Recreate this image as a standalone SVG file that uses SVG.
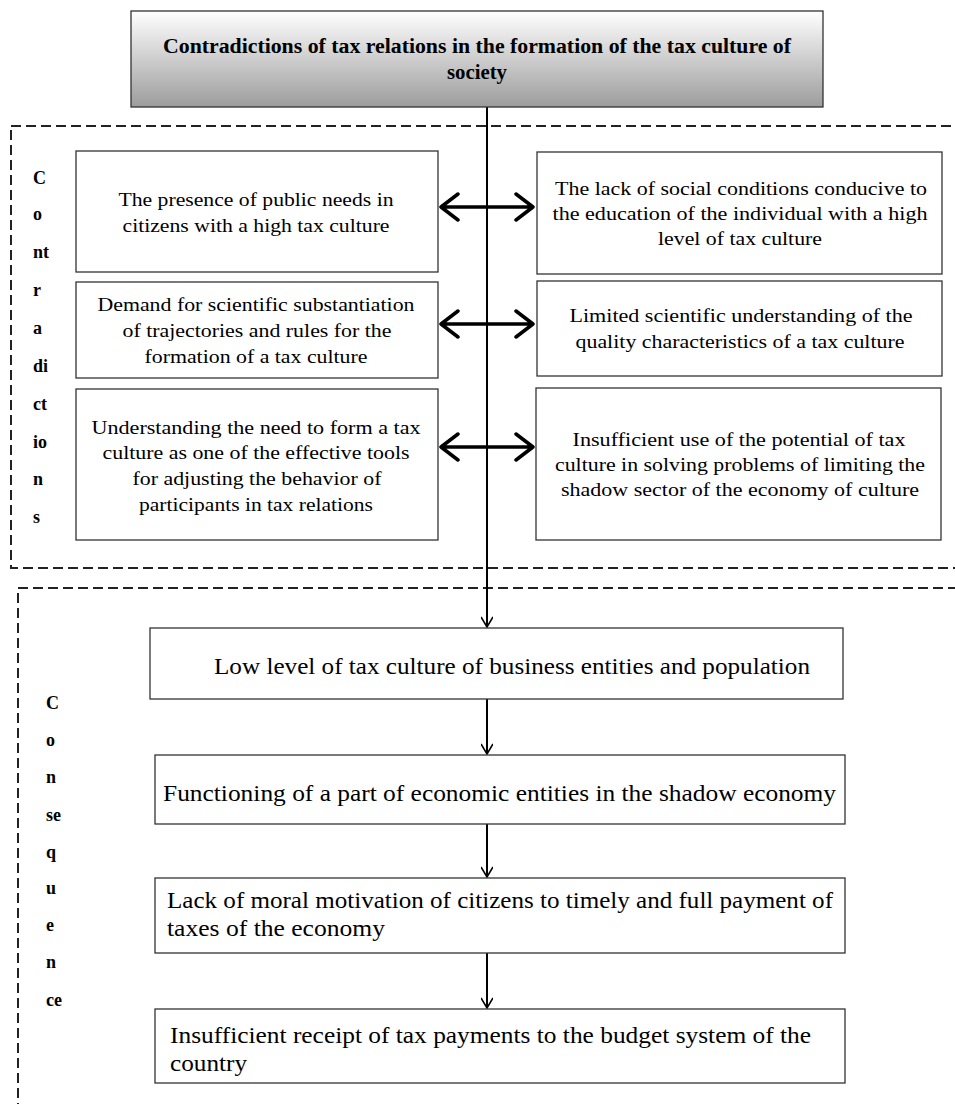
<svg xmlns="http://www.w3.org/2000/svg" width="955" height="1104" viewBox="0 0 955 1104">
<defs>
<linearGradient id="g" x1="0" y1="0" x2="0" y2="1">
<stop offset="0" stop-color="#ffffff"/>
<stop offset="1" stop-color="#9c9c9c"/>
</linearGradient>
<marker id="ah" viewBox="0 0 12 12" refX="11" refY="6" markerWidth="12" markerHeight="12" markerUnits="userSpaceOnUse" orient="auto">
<path d="M1,0 L11,6 L1,12" fill="none" stroke="#000" stroke-width="1.6"/>
</marker>
</defs>
<style>
.box{fill:#fff;stroke:#333;stroke-width:1.3}
.dash{fill:none;stroke:#222;stroke-width:2;stroke-dasharray:10,5}
.t{font-family:"Liberation Serif",serif;font-size:19.5px;fill:#000;text-anchor:middle}
.c{font-family:"Liberation Serif",serif;font-size:24px;fill:#000}
.lt{font-family:"Liberation Serif",serif;font-size:18px;font-weight:bold;fill:#000}
.ttl{font-family:"Liberation Serif",serif;font-size:20px;font-weight:bold;fill:#000;text-anchor:middle}
.line{stroke:#000;stroke-width:2;fill:none}
.dbl{stroke:#000;stroke-width:3.5;fill:none;stroke-linecap:round;stroke-linejoin:round}
</style>

<g id="frames">
<rect class="dash" x="11" y="126" width="960" height="442"/>
<rect class="dash" x="18" y="588" width="960" height="600"/>
</g>

<g id="label-contradictions">
<text class="lt" x="33" y="184">C</text>
<text class="lt" x="33" y="220">o</text>
<text class="lt" x="33" y="258">nt</text>
<text class="lt" x="33" y="296">r</text>
<text class="lt" x="33" y="334">a</text>
<text class="lt" x="33" y="372">di</text>
<text class="lt" x="33" y="410">ct</text>
<text class="lt" x="33" y="448">io</text>
<text class="lt" x="33" y="485">n</text>
<text class="lt" x="33" y="523">s</text>
</g>

<g id="label-consequence">
<text class="lt" x="46" y="709">C</text>
<text class="lt" x="46" y="746">o</text>
<text class="lt" x="46" y="783">n</text>
<text class="lt" x="46" y="821">se</text>
<text class="lt" x="46" y="858">q</text>
<text class="lt" x="46" y="894">u</text>
<text class="lt" x="46" y="931">e</text>
<text class="lt" x="46" y="968">n</text>
<text class="lt" x="46" y="1006">ce</text>
</g>

<g id="connectors">
<line class="line" x1="487" y1="107" x2="487" y2="627" marker-end="url(#ah)"/>
<line class="line" x1="487" y1="699" x2="487" y2="754" marker-end="url(#ah)"/>
<line class="line" x1="487" y1="824" x2="487" y2="877" marker-end="url(#ah)"/>
<line class="line" x1="487" y1="953" x2="487" y2="1008" marker-end="url(#ah)"/>
<g id="double-arrows">
<path class="dbl" d="M441,207 H533 M458,194 L441,207 L458,220 M516,194 L533,207 L516,220"/>
<path class="dbl" d="M441,324 H533 M458,311 L441,324 L458,337 M516,311 L533,324 L516,337"/>
<path class="dbl" d="M441,447 H533 M458,434 L441,447 L458,460 M516,434 L533,447 L516,460"/>
</g>
</g>

<g id="title">
<rect x="131" y="11" width="692" height="96" fill="url(#g)" stroke="#333" stroke-width="1.3"/>
<text class="ttl" x="477" y="53" textLength="628" lengthAdjust="spacingAndGlyphs">Contradictions of tax relations in the formation of the tax culture of</text>
<text class="ttl" x="477" y="79" textLength="60" lengthAdjust="spacingAndGlyphs">society</text>
</g>

<g id="left1">
<rect class="box" x="76" y="151" width="362" height="121"/>
<text class="t" x="256" y="206" textLength="275" lengthAdjust="spacingAndGlyphs">The presence of public needs in</text>
<text class="t" x="256" y="232" textLength="267" lengthAdjust="spacingAndGlyphs">citizens with a high tax culture</text>
</g>
<g id="left2">
<rect class="box" x="76" y="282" width="362" height="96"/>
<text class="t" x="256" y="311" textLength="317" lengthAdjust="spacingAndGlyphs">Demand for scientific substantiation</text>
<text class="t" x="257" y="337" textLength="269" lengthAdjust="spacingAndGlyphs">of trajectories and rules for the</text>
<text class="t" x="256" y="363" textLength="223" lengthAdjust="spacingAndGlyphs">formation of a tax culture</text>
</g>
<g id="left3">
<rect class="box" x="76" y="389" width="362" height="151"/>
<text class="t" x="256" y="434" textLength="329" lengthAdjust="spacingAndGlyphs">Understanding the need to form a tax</text>
<text class="t" x="256" y="459" textLength="307" lengthAdjust="spacingAndGlyphs">culture as one of the effective tools</text>
<text class="t" x="257" y="485" textLength="249" lengthAdjust="spacingAndGlyphs">for adjusting the behavior of</text>
<text class="t" x="256" y="511" textLength="234" lengthAdjust="spacingAndGlyphs">participants in tax relations</text>
</g>

<g id="right1">
<rect class="box" x="537" y="152" width="405" height="122"/>
<text class="t" x="741" y="195" textLength="372" lengthAdjust="spacingAndGlyphs">The lack of social conditions conducive to</text>
<text class="t" x="740" y="220" textLength="375" lengthAdjust="spacingAndGlyphs">the education of the individual with a high</text>
<text class="t" x="740" y="245" textLength="164" lengthAdjust="spacingAndGlyphs">level of tax culture</text>
</g>
<g id="right2">
<rect class="box" x="537" y="281" width="405" height="95"/>
<text class="t" x="741" y="322" textLength="343" lengthAdjust="spacingAndGlyphs">Limited scientific understanding of the</text>
<text class="t" x="740" y="348" textLength="329" lengthAdjust="spacingAndGlyphs">quality characteristics of a tax culture</text>
</g>
<g id="right3">
<rect class="box" x="536" y="388" width="405" height="152"/>
<text class="t" x="739" y="446" textLength="333" lengthAdjust="spacingAndGlyphs">Insufficient use of the potential of tax</text>
<text class="t" x="740" y="471" textLength="370" lengthAdjust="spacingAndGlyphs">culture in solving problems of limiting the</text>
<text class="t" x="740" y="496" textLength="358" lengthAdjust="spacingAndGlyphs">shadow sector of the economy of culture</text>
</g>

<g id="cons1">
<rect class="box" x="150" y="628" width="693" height="71"/>
<text class="c" x="214" y="674" textLength="596" lengthAdjust="spacingAndGlyphs">Low level of tax culture of business entities and population</text>
</g>
<g id="cons2">
<rect class="box" x="155" y="755" width="690" height="69"/>
<text class="c" x="163" y="801" textLength="673" lengthAdjust="spacingAndGlyphs">Functioning of a part of economic entities in the shadow economy</text>
</g>
<g id="cons3">
<rect class="box" x="155" y="878" width="690" height="75"/>
<text class="c" x="167" y="908" textLength="666" lengthAdjust="spacingAndGlyphs">Lack of moral motivation of citizens to timely and full payment of</text>
<text class="c" x="167" y="936" textLength="218" lengthAdjust="spacingAndGlyphs">taxes of the economy</text>
</g>
<g id="cons4">
<rect class="box" x="155" y="1009" width="690" height="74"/>
<text class="c" x="170" y="1043" textLength="641" lengthAdjust="spacingAndGlyphs">Insufficient receipt of tax payments to the budget system of the</text>
<text class="c" x="170" y="1071" textLength="77" lengthAdjust="spacingAndGlyphs">country</text>
</g>
</svg>
